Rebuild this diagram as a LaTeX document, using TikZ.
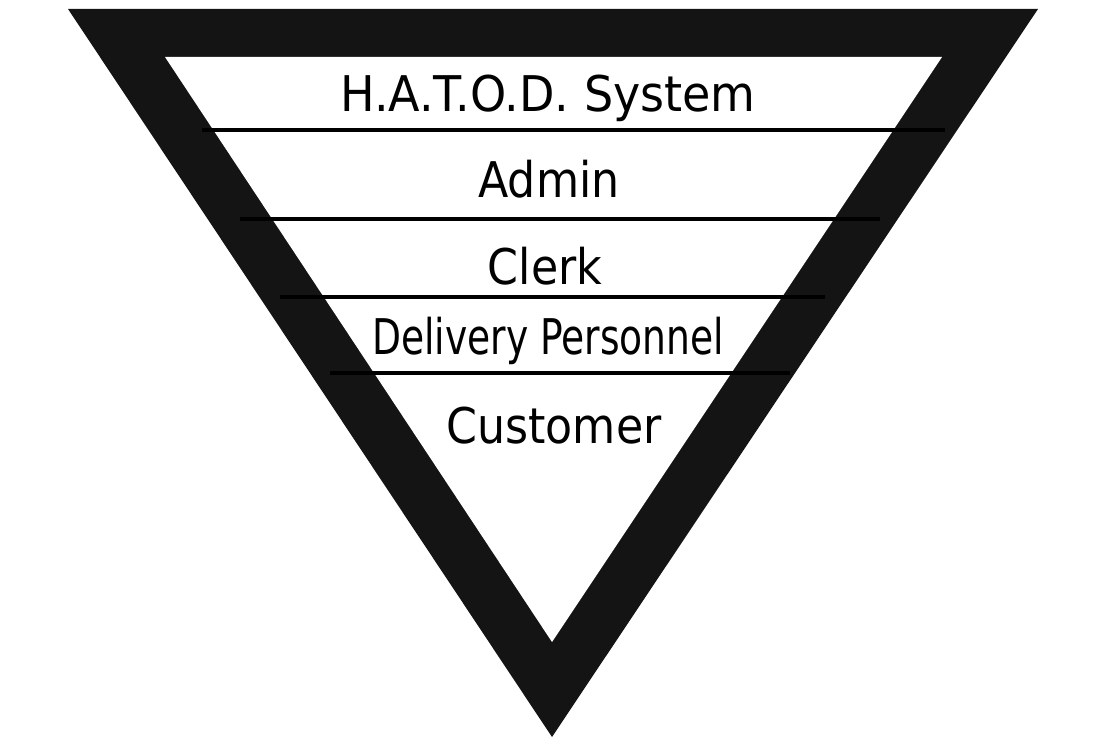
\documentclass[tikz,border=0pt]{standalone}
\usepackage{fontspec}
\setmainfont{DejaVu Sans Condensed}
\definecolor{band}{gray}{0.08}
\tikzset{
  tier/.style={anchor=base, inner sep=0pt, font=\fontsize{28}{30}\selectfont, transform shape},
  divider/.style={line width=2.3pt, black}
}

\begin{document}
\begin{tikzpicture}[x=0.02cm, y=-0.02cm]
    \useasboundingbox (0,0) rectangle (1119,746);
    % outer and inner triangle
    \fill[band] (68,9) -- (1038,9) -- (552,737) -- cycle;
    \fill[white] (165,57) -- (942,57) -- (552,642) -- cycle;
    % dividers
    \draw[divider] (202,130) -- (945,130);
    \draw[divider] (240,219) -- (880,219);
    \draw[divider] (280,297) -- (825,297);
    \draw[divider] (330,373) -- (790,373);
    % levels
    \node[tier, xscale=1.04] (system) at (548,112) {H.A.T.O.D. System};
    \node[tier] (admin) at (549,198) {Admin};
    \node[tier] (clerk) at (545,285) {Clerk};
    \node[tier, xscale=0.85] (delivery) at (548,355) {Delivery Personnel};
    \node[tier] (customer) at (554,443) {Customer};
\end{tikzpicture}
\end{document}
